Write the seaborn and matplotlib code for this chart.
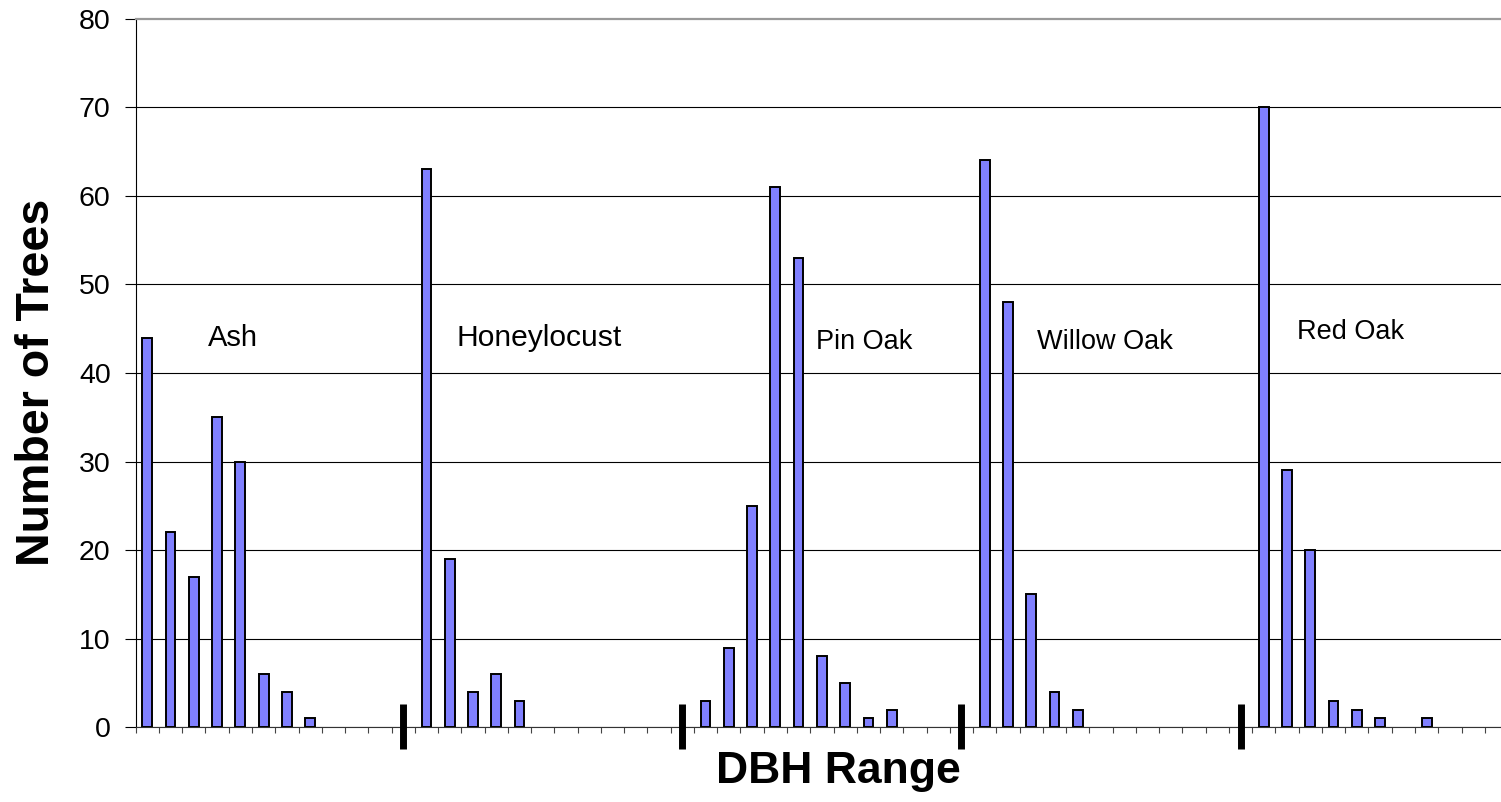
import numpy as np
import pandas as pd
import matplotlib
matplotlib.use("Agg")
import matplotlib.pyplot as plt
import seaborn as sns

# ---- data ----
groups = ["Ash", "Honeylocust", "Pin Oak", "Willow Oak", "Red Oak"]
ash = [44, 22, 17, 35, 30, 6, 4, 1]
honeylocust = [63, 19, 4, 6, 3]
pin_oak = [3, 9, 25, 61, 53, 8, 5, 1, 2]
willow_oak = [64, 48, 15, 4, 2]
red_oak = [70, 29, 20, 3, 2, 1, 0, 1]
y_ticks = [0, 10, 20, 30, 40, 50, 60, 70, 80]
slots_per_group = 12

# label placement (data coordinates) and sizes
label_x = [2.62, 13.30, 28.75, 38.24, 49.41]
label_y = [44.0, 44.0, 43.5, 43.5, 44.6]
label_size = [21, 21.6, 19.5, 19.5, 19.5]

series = [ash, honeylocust, pin_oak, willow_oak, red_oak]
rows = []
for gi, (g, vals) in enumerate(zip(groups, series)):
    for k, v in enumerate(vals):
        if v > 0:
            rows.append({"slot": str(gi * slots_per_group + k), "species": g, "count": v})
df = pd.DataFrame(rows)
order = [str(i) for i in range(len(groups) * slots_per_group)]

sns.set_style("white")
plt.rcParams["font.family"] = ["Liberation Sans", "DejaVu Sans"]
plt.rcParams["text.color"] = "black"
plt.rcParams["axes.labelcolor"] = "black"
plt.rcParams["xtick.color"] = "black"
plt.rcParams["ytick.color"] = "black"

fig = plt.figure(figsize=(15.01, 8.02), dpi=100)
ax = fig.add_axes([0.0904, 0.0931, 0.9298, 0.8835])

sns.barplot(data=df, x="slot", y="count", order=order, color="#8080FF",
            saturation=1, edgecolor="black", linewidth=1.4, width=0.42,
            errorbar=None, ax=ax, zorder=3)

ax.set_xlim(-0.5, len(order) - 0.5)
ax.set_ylim(0, 80)

# ticks
ax.set_xticks(np.arange(-0.5, len(order), 1))
ax.set_xticklabels([])
ax.tick_params(axis="x", bottom=True, length=4, width=0.8, color="#444444", direction="out")
ax.set_yticks(y_ticks)
ax.set_yticklabels([str(t) for t in y_ticks])
ax.tick_params(axis="y", left=True, length=8, width=0.8, color="black",
               labelcolor="black", labelsize=20.5, pad=10, direction="out")

# grid
ax.set_axisbelow(True)
ax.yaxis.grid(True, color="black", linewidth=0.8)
ax.xaxis.grid(False)
ax.yaxis.get_major_ticks()[-1].gridline.set_visible(False)

# spines
ax.spines["left"].set_color("black")
ax.spines["left"].set_linewidth(0.8)
ax.spines["bottom"].set_color("#333333")
ax.spines["bottom"].set_linewidth(0.8)
ax.spines["top"].set_color("#999999")
ax.spines["top"].set_linewidth(1.6)
ax.spines["right"].set_color("#999999")
ax.spines["right"].set_linewidth(1.6)

# group separators
for gi in range(1, len(groups)):
    xs = gi * slots_per_group - 1
    ax.plot([xs, xs], [-2.5, 2.6], color="black", lw=5, clip_on=False,
            solid_capstyle="butt", zorder=6)

# group labels
for g, lx, ly, fs in zip(groups, label_x, label_y, label_size):
    ax.text(lx, ly, g, ha="left", va="center", fontsize=fs, color="black", zorder=7)

# axis labels
ax.set_xlabel("DBH Range", fontsize=32, fontweight="bold", color="black")
ax.xaxis.set_label_coords(0.5035, -0.0627)
ax.xaxis.label.set_va("center")
ax.set_ylabel("Number of Trees", fontsize=33.5, fontweight="bold", color="black")
ax.yaxis.set_label_coords(-0.071, 0.487)
ax.yaxis.label.set_va("center")
ax.yaxis.label.set_ha("center")

fig.savefig("out.png", dpi=100)
